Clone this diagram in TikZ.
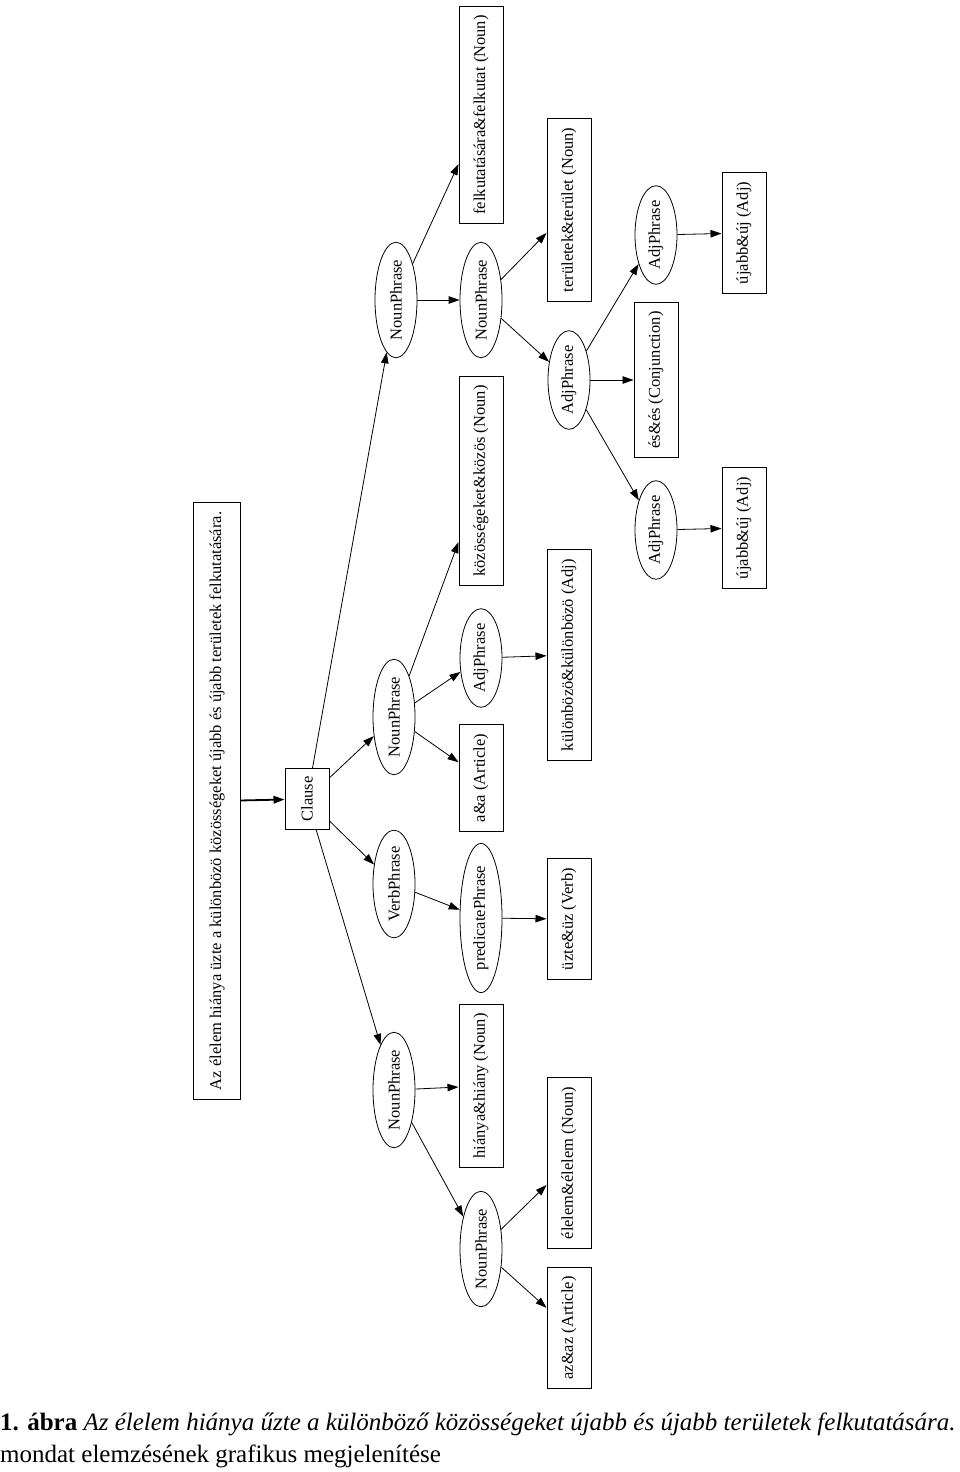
\documentclass[tikz,border=0pt]{standalone}
\usepackage{fontspec}
\setmainfont{Liberation Serif}
\usetikzlibrary{arrows.meta,shapes.geometric}
\tikzset{
  treefont/.style={font=\fontsize{16.5}{19}\selectfont},
  phrase/.style={draw, ellipse, rotate=90, treefont, inner sep=0.5pt, minimum height=42pt, line width=0.8pt},
  wordbox/.style={draw, rectangle, rotate=90, treefont, inner xsep=9pt, minimum height=44pt, line width=1pt},
  link/.style={-{Triangle[length=11pt,width=7.5pt]}, line width=0.8pt},
}

\begin{document}
\begin{tikzpicture}[x=1pt, y=-1pt]
    \useasboundingbox (0,0) rectangle (960,1472);

    % Sentence and root
    \node[wordbox, minimum height=47pt] (sent) at (217,801) {Az élelem hiánya üzte a különbözö közösségeket újabb és újabb területek felkutatására.};
    \node[wordbox, inner xsep=8pt] (clause) at (307,799) {Clause};

    % Second level
    \node[phrase] (np1) at (396,300) {NounPhrase};
    \node[phrase] (np2) at (394,717) {NounPhrase};
    \node[phrase] (vp) at (394,884) {VerbPhrase};
    \node[phrase] (np3) at (394,1090) {NounPhrase};

    % Third level
    \node[wordbox] (felkutat) at (481,115) {felkutatására\&felkutat (Noun)};
    \node[phrase] (np4) at (481,300) {NounPhrase};
    \node[wordbox] (kozos) at (481,481) {közösségeket\&közös (Noun)};
    \node[phrase] (adj1) at (481,658) {AdjPhrase};
    \node[wordbox] (aa) at (481,778) {a\&a (Article)};
    \node[phrase] (pred) at (481,918) {predicatePhrase};
    \node[wordbox] (hiany) at (481,1086) {hiánya\&hiány (Noun)};
    \node[phrase] (np5) at (481,1249) {NounPhrase};

    % Fourth level
    \node[wordbox] (terulet) at (569,210) {területek\&terület (Noun)};
    \node[phrase] (adj2) at (569,380) {AdjPhrase};
    \node[wordbox] (kulonb) at (569,655) {különbözö\&különbözö (Adj)};
    \node[wordbox] (uz) at (569,919) {üzte\&üz (Verb)};
    \node[wordbox] (elelem) at (569,1163) {élelem\&élelem (Noun)};
    \node[wordbox] (azaz) at (569,1328) {az\&az (Article)};

    % Fifth and sixth level
    \node[phrase] (adj3) at (656,235) {AdjPhrase};
    \node[wordbox] (es) at (656,380) {és\&és (Conjunction)};
    \node[phrase] (adj4) at (656,530) {AdjPhrase};
    \node[wordbox] (uj1) at (744,233) {újabb\&új (Adj)};
    \node[wordbox] (uj2) at (744,528) {újabb\&új (Adj)};

    % Edges
    \draw[link, line width=1.8pt] (sent) -- (clause);
    \foreach \a/\b in {clause/np1, clause/np2, clause/vp, clause/np3,
                       np1/felkutat, np1/np4, np4/terulet, np4/adj2,
                       adj2/adj3, adj2/es, adj2/adj4, adj3/uj1, adj4/uj2,
                       np2/kozos, np2/adj1, np2/aa, adj1/kulonb,
                       vp/pred, pred/uz,
                       np3/hiany, np3/np5, np5/elelem, np5/azaz}
        \draw[link] (\a) -- (\b);

    % Caption
    \node[anchor=base west, inner sep=0pt, font=\fontsize{25}{30}\selectfont] (cap1) at (0,1430)
        {\textbf{1. ábra} \textit{Az élelem hiánya űzte a különböző közösségeket újabb és újabb területek felkutatására.}};
    \node[anchor=base west, inner sep=0pt, font=\fontsize{25}{30}\selectfont] (cap2) at (0,1462)
        {mondat elemzésének grafikus megjelenítése};
\end{tikzpicture}
\end{document}
